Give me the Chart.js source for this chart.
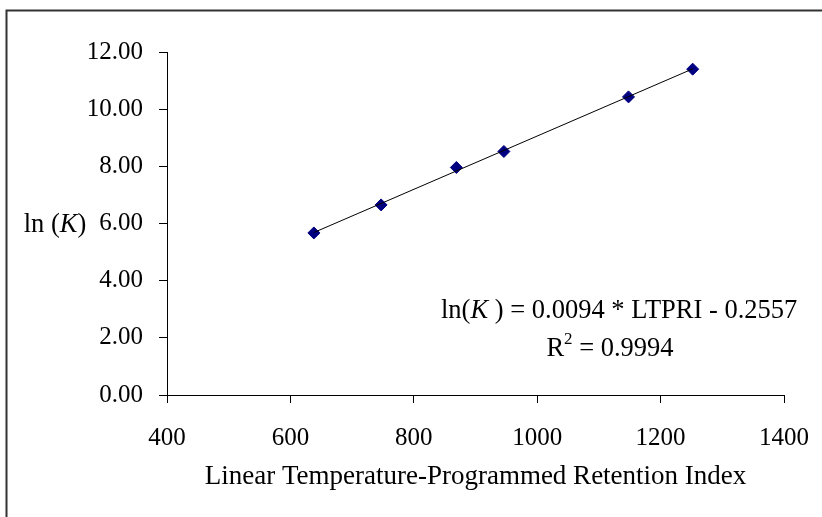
<!DOCTYPE html>
<html>
<head>
<meta charset="utf-8">
<script src="https://cdn.jsdelivr.net/npm/chart.js@4.4.1/dist/chart.umd.min.js"></script>
<style>
    html, body { margin: 0; padding: 0; background: #fff; }
    canvas { display: block; }
</style>
</head>
<body>
<canvas id="retentionChart" width="822" height="517"></canvas>
<script>
// values
const ltpri = [638, 747, 869, 946, 1148, 1252];
const lnK = [5.67, 6.65, 7.96, 8.52, 10.43, 11.40];
const xTicks = [400, 600, 800, 1000, 1200, 1400];
const yTicks = [0, 2, 4, 6, 8, 10, 12];
const equationText = '0.0094 * LTPRI - 0.2557';
const r2Text = '0.9994';

const serif = "'Liberation Serif', 'Times New Roman', serif";
const tickSize = 25;
const labelSize = 26.5;

// least squares trendline over the measured points
const fitLine = (xs, ys) => {
    const n = xs.length;
    const mx = xs.reduce((a, b) => a + b, 0) / n;
    const my = ys.reduce((a, b) => a + b, 0) / n;
    let sxy = 0;
    let sxx = 0;
    xs.forEach((x, i) => {
        sxy += (x - mx) * (ys[i] - my);
        sxx += (x - mx) * (x - mx);
    });
    const slope = sxy / sxx;
    const icept = my - slope * mx;
    const x0 = Math.min(...xs);
    const x1 = Math.max(...xs);
    return [
        { x: x0, y: slope * x0 + icept },
        { x: x1, y: slope * x1 + icept },
    ];
};

// draws a run of [text, italic, superscript] pieces starting at x
const drawRuns = (ctx, runs, x, y, align) => {
    const fontFor = (italic, sup) =>
        `${italic ? 'italic ' : ''}${sup ? Math.round(labelSize * 0.65) : labelSize}px ${serif}`;
    const widths = runs.map(([text, italic, sup]) => {
        ctx.font = fontFor(italic, sup);
        return ctx.measureText(text).width;
    });
    const total = widths.reduce((a, b) => a + b, 0);
    let cx = align === 'center' ? x - total / 2 : x;
    runs.forEach(([text, italic, sup], i) => {
        ctx.font = fontFor(italic, sup);
        ctx.fillText(text, cx, sup ? y - 9 : y);
        cx += widths[i];
    });
};

const decorations = {
    id: 'decorations',
    beforeDraw(chart) {
        const { ctx } = chart;
        ctx.save();
        ctx.strokeStyle = '#333';
        ctx.lineWidth = 2;
        ctx.beginPath();
        ctx.moveTo(6.5, 530);
        ctx.lineTo(6.5, 10.5);
        ctx.lineTo(830, 10.5);
        ctx.stroke();
        ctx.restore();
    },
    afterDraw(chart) {
        const { ctx } = chart;
        ctx.save();
        ctx.fillStyle = '#000';
        ctx.textAlign = 'left';
        ctx.textBaseline = 'middle';
        drawRuns(ctx, [['ln (', false], ['K', true], [')', false]], 55, 225, 'center');
        drawRuns(ctx, [['ln(', false], ['K', true], [' ) = ' + equationText, false]], 441, 311, 'left');
        drawRuns(ctx, [['R', false], ['2', false, true], [' = ' + r2Text, false]], 610, 349, 'center');
        ctx.restore();
    },
};

new Chart(document.getElementById('retentionChart'), {
    type: 'scatter',
    data: {
        datasets: [
            {
                type: 'line',
                data: fitLine(ltpri, lnK),
                borderColor: '#000',
                borderWidth: 1,
                pointRadius: 0,
                fill: false,
                order: 0,
            },
            {
                data: ltpri.map((x, i) => ({ x, y: lnK[i] })),
                backgroundColor: '#000080',
                borderColor: '#000080',
                borderWidth: 1,
                pointStyle: 'rectRot',
                pointRadius: 6,
                order: 1,
            },
        ],
    },
    options: {
        responsive: false,
        animation: false,
        events: [],
        layout: {
            padding: { top: 52, right: 38, bottom: 0, left: 0 },
        },
        plugins: {
            legend: { display: false },
            tooltip: { enabled: false },
        },
        scales: {
            x: {
                type: 'linear',
                min: xTicks[0],
                max: xTicks[xTicks.length - 1],
                afterBuildTicks: (scale) => {
                    scale.ticks = xTicks.map((value) => ({ value }));
                },
                afterFit: (scale) => {
                    scale.height = 122;
                    scale.paddingLeft = 0;
                    scale.paddingRight = 0;
                },
                grid: {
                    drawOnChartArea: false,
                    tickLength: 8,
                    color: '#000',
                },
                border: { color: '#000' },
                ticks: {
                    color: '#000',
                    padding: 20,
                    maxRotation: 0,
                    font: { family: serif, size: tickSize },
                    callback: (value) => String(value),
                },
                title: {
                    display: true,
                    text: 'Linear Temperature-Programmed Retention Index',
                    color: '#000',
                    font: { family: serif, size: 27 },
                    padding: { top: 0, bottom: 24 },
                },
            },
            y: {
                min: yTicks[0],
                max: yTicks[yTicks.length - 1],
                afterBuildTicks: (scale) => {
                    scale.ticks = yTicks.map((value) => ({ value }));
                },
                afterFit: (scale) => {
                    scale.width = 167;
                    scale.paddingTop = 0;
                    scale.paddingBottom = 0;
                },
                grid: {
                    drawOnChartArea: false,
                    tickLength: 8,
                    color: '#000',
                },
                border: { color: '#000' },
                ticks: {
                    color: '#000',
                    padding: 16,
                    font: { family: serif, size: tickSize },
                    callback: (value) => Number(value).toFixed(2),
                },
            },
        },
    },
    plugins: [decorations],
});
</script>
</body>
</html>
